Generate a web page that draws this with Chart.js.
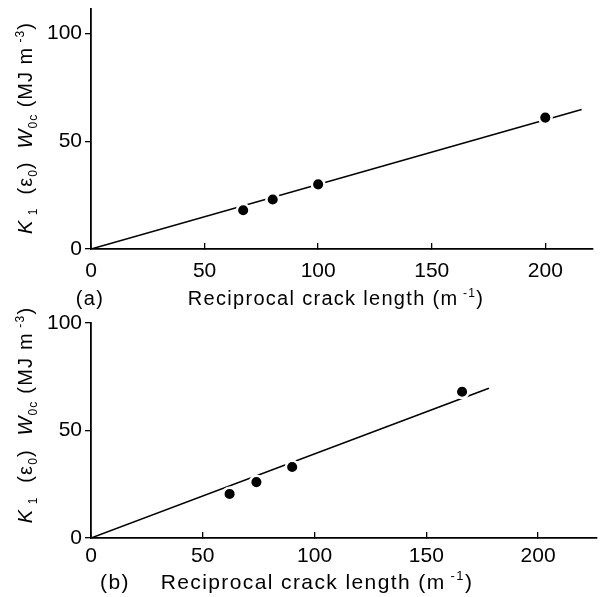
<!DOCTYPE html>
<html>
<head>
<meta charset="utf-8">
<script src="https://cdn.jsdelivr.net/npm/chart.js@4.4.1/dist/chart.umd.min.js"></script>
<style>
  html, body { margin: 0; padding: 0; background: #fff; }
  #wrap { position: relative; width: 605px; height: 597px; overflow: hidden; }
  .panel { position: absolute; left: 0; width: 605px; }
  #pa { top: 0; height: 315px; }
  #pb { top: 290px; height: 307px; }
</style>
</head>
<body>
<div id="wrap">
  <div class="panel" id="pa"><canvas id="chartA"></canvas></div>
  <div class="panel" id="pb"><canvas id="chartB"></canvas></div>
</div>
<script>
// panel (a) : measured points and fitted line
const crackA = [67, 80, 100, 200];
const workA  = [18, 23, 30, 61];
const fitXA  = [0, 216];
const fitYA  = [0, 64.8];

// panel (b)
const crackB = [62, 74, 90, 166];
const workB  = [20.5, 26, 33, 68];
const fitXB  = [0, 178];
const fitYB  = [0, 69.6];

// tick labels
const xTicks = [0, 50, 100, 150, 200];
const yTicks = [0, 50, 100];

const FONT = '"Liberation Sans", Arial, Helvetica, sans-serif';

// titles with sub / superscripts
const yTitle = [
  { t: 'K', it: true }, { t: ' 1', sub: true }, { t: '  (ε' }, { t: '0', sub: true },
  { t: ')  ' }, { t: 'W', it: true }, { t: '0c', sub: true }, { t: ' (MJ m' },
  { t: ' -3', sup: true }, { t: ')' }
];
const xTitle = [ { t: 'Reciprocal crack length (m' }, { t: ' -1', sup: true }, { t: ')' } ];

function segFont(s, size) {
  const sz = (s.sub || s.sup) ? Math.round(size * 0.62) : size;
  return (s.it ? 'italic ' : '') + sz + 'px ' + FONT;
}

function drawRich(ctx, segs, size, spacing, cx, cy, rotate) {
  ctx.save();
  ctx.translate(cx, cy);
  if (rotate) ctx.rotate(-Math.PI / 2);
  ctx.letterSpacing = spacing + 'px';
  let total = 0;
  const w = segs.map(s => { ctx.font = segFont(s, size); const m = ctx.measureText(s.t).width; total += m; return m; });
  let x = -total / 2;
  const base = size * 0.36;
  ctx.fillStyle = '#000';
  ctx.textBaseline = 'alphabetic';
  ctx.textAlign = 'left';
  segs.forEach((s, i) => {
    ctx.font = segFont(s, size);
    let y = base;
    if (s.sub) y += size * 0.22;
    if (s.sup) y -= size * 0.42;
    ctx.fillText(s.t, x, y);
    x += w[i];
  });
  ctx.restore();
}

const axisText = {
  id: 'axisText',
  afterDraw(chart, args, o) {
    const ctx = chart.ctx;
    drawRich(ctx, yTitle, o.ySize, o.ySp, o.yx, o.yy, true);
    drawRich(ctx, xTitle, o.xSize, o.xSp, o.xx, o.xy, false);
    ctx.save();
    ctx.font = o.xSize + 'px ' + FONT;
    ctx.letterSpacing = o.xSp + 'px';
    ctx.fillStyle = '#000';
    ctx.textAlign = 'center';
    ctx.textBaseline = 'alphabetic';
    ctx.fillText(o.tag, o.tagX, o.xy + o.xSize * 0.36);
    ctx.restore();
  }
};

function makeChart(id, crack, work, fitX, fitY, cfg) {
  return new Chart(document.getElementById(id), {
    type: 'scatter',
    data: {
      datasets: [
        {
          type: 'line',
          data: fitX.map((x, i) => ({ x: x, y: fitY[i] })),
          borderColor: '#000',
          borderWidth: 1.6,
          pointRadius: 0,
          fill: false,
          order: 2
        },
        {
          data: crack.map((x, i) => ({ x: x, y: work[i] })),
          backgroundColor: '#000',
          borderColor: '#fff',
          borderWidth: 2.5,
          pointRadius: 6.3,
          order: 1
        }
      ]
    },
    options: {
      responsive: true,
      maintainAspectRatio: false,
      animation: false,
      events: [],
      layout: { padding: { top: cfg.top, right: cfg.right, left: 0, bottom: 0 } },
      plugins: {
        legend: { display: false },
        tooltip: { enabled: false },
        axisText: cfg.text
      },
      scales: {
        x: {
          type: 'linear',
          min: 0,
          max: cfg.xMax,
          afterBuildTicks: s => { s.ticks = xTicks.map(v => ({ value: v })); },
          afterFit: s => { s.height = cfg.xH; s.paddingLeft = 0; s.paddingRight = 0; },
          grid: { drawOnChartArea: false, drawTicks: true, tickLength: -6, color: '#000', lineWidth: 1.3 },
          border: { display: true, color: '#000', width: 1.8 },
          ticks: { color: '#000', padding: cfg.xPad, font: { size: 21, family: FONT } }
        },
        y: {
          type: 'linear',
          min: 0,
          max: cfg.yMax,
          afterBuildTicks: s => { s.ticks = yTicks.map(v => ({ value: v })); },
          afterFit: s => { s.width = 91; s.paddingTop = 0; s.paddingBottom = 0; },
          grid: { drawOnChartArea: false, drawTicks: true, tickLength: 6, color: '#000', lineWidth: 1.3 },
          border: { display: true, color: '#000', width: 1.8 },
          ticks: { color: '#000', padding: 3, font: { size: 21, family: FONT } }
        }
      }
    },
    plugins: [axisText]
  });
}

makeChart('chartA', crackA, workA, fitXA, fitYA, {
  top: 7, right: 12, xMax: 221, yMax: 111.5, xH: 315 - 249, xPad: 16,
  text: { ySize: 20, ySp: 1, yx: 25, yy: 128, xSize: 20, xSp: 1.3, xx: 336, xy: 298, tag: '(a)', tagX: 90 }
});

makeChart('chartB', crackB, workB, fitXB, fitYB, {
  top: 33, right: 1, xMax: 226, yMax: 100, xH: 307 - 248, xPad: 12,
  text: { ySize: 20, ySp: 1.2, yx: 25, yy: 125, xSize: 21, xSp: 1.4, xx: 317, xy: 291, tag: '(b)', tagX: 115 }
});
</script>
</body>
</html>
